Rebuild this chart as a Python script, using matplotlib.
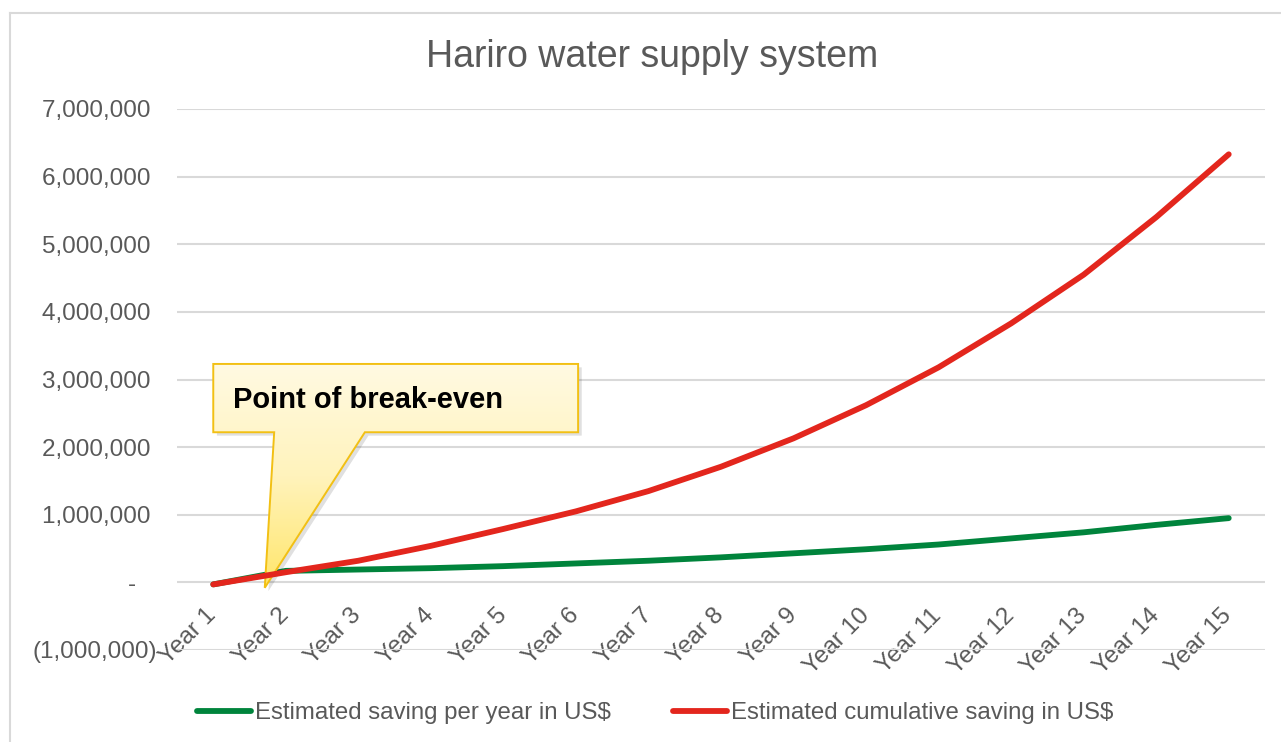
import numpy as np
import matplotlib
matplotlib.use("Agg")
import matplotlib.pyplot as plt
from matplotlib.patches import Polygon
from matplotlib.lines import Line2D
from matplotlib.colors import LinearSegmentedColormap
from matplotlib.transforms import ScaledTranslation

plt.rcParams['font.family'] = ['Liberation Sans', 'DejaVu Sans']

# ---- data ----
years = [f"Year {i}" for i in range(1, 16)]
saving_per_year = [-30000, 170000, 190000, 210000, 240000, 280000, 320000, 370000,
                   430000, 490000, 560000, 650000, 740000, 850000, 950000]
cumulative_saving = [-30000, 150000, 320000, 540000, 790000, 1050000, 1350000, 1710000,
                     2130000, 2620000, 3180000, 3830000, 4550000, 5400000, 6330000]
y_ticks = [-1000000, 0, 1000000, 2000000, 3000000, 4000000, 5000000, 6000000, 7000000]

title = "Hariro water supply system"
series_names = ["Estimated saving per year in US$", "Estimated cumulative saving in US$"]
callout_text = "Point of break-even"

GREEN = "#00843C"
RED = "#E3261D"
GRID = "#D9D9D9"
TEXT = "#595959"

W, H = 1281, 742
fig = plt.figure(figsize=(W / 100, H / 100), dpi=100)
fig.patch.set_facecolor("white")

# chart-area frame (top and left edges visible)
fig.add_artist(Line2D([10 / W, 1.0], [1 - 13 / H, 1 - 13 / H], color=GRID, lw=1.5,
                      transform=fig.transFigure))
fig.add_artist(Line2D([10 / W, 10 / W], [0.0, 1 - 13 / H], color=GRID, lw=1.5,
                      transform=fig.transFigure))

ax = fig.add_axes([177 / W, 1 - 650 / H, (1265 - 177) / W, (650 - 109) / H])
x = np.arange(len(years))

ax.plot(x, saving_per_year, color=GREEN, lw=4.2, solid_capstyle="round",
        solid_joinstyle="round", zorder=3, label=series_names[0])
ax.plot(x, cumulative_saving, color=RED, lw=4.2, solid_capstyle="round",
        solid_joinstyle="round", zorder=5, label=series_names[1])

ax.set_xlim(-0.5, len(years) - 0.5)
ax.set_ylim(y_ticks[0], y_ticks[-1])

for s in ax.spines.values():
    s.set_visible(False)
ax.set_yticks(y_ticks)
ax.yaxis.grid(True, color=GRID, lw=1.5)
ax.set_axisbelow(True)


def fmt(v):
    if v < 0:
        return f"({abs(v):,.0f})"
    if v == 0:
        return "-   "
    return f"{v:,.0f} "


ax.set_yticklabels([fmt(v) for v in y_ticks])
ax.tick_params(axis="y", length=0, pad=14.5, labelsize=17.5, labelcolor=TEXT)

# category axis crosses at zero
ax.spines["bottom"].set_position(("data", 0))
ax.set_xticks(x)
ax.set_xticklabels(years, rotation=45, ha="right", va="top", rotation_mode="anchor")
ax.tick_params(axis="x", length=0, pad=13, labelsize=17.5, labelcolor=TEXT)
shift = ScaledTranslation(-8 / 100, -4 / 100, fig.dpi_scale_trans)
for lab in ax.get_xticklabels():
    lab.set_transform(lab.get_transform() + shift)

# callout with vertical gradient fill
x0, x1 = 0.0, 5.03
ytop, ybot = 3.23e6, 2.22e6
pb_l, pb_r = 0.84, 2.09
tip = (0.71, -0.08e6)
verts = [(x0, ytop), (x1, ytop), (x1, ybot), (pb_r, ybot), tip, (pb_l, ybot), (x0, ybot)]

shadow = Polygon([(vx + 0.05, vy - 0.05e6) for vx, vy in verts], closed=True,
                 facecolor="#000000", alpha=0.12, edgecolor="none", zorder=3.9)
ax.add_patch(shadow)

outline = Polygon(verts, closed=True, facecolor="none", edgecolor="#F2C014",
                  lw=1.4, zorder=4.2)
ax.add_patch(outline)
clip = Polygon(verts, closed=True, transform=ax.transData)
cmap = LinearSegmentedColormap.from_list("callout", ["#FFE66A", "#FFF3BC", "#FFFAE2"])
grad = np.linspace(0, 1, 256).reshape(-1, 1)
im = ax.imshow(grad, cmap=cmap, origin="lower", aspect="auto",
               extent=[x0, x1, tip[1], ytop], zorder=4.1, interpolation="bilinear")
im.set_clip_path(clip)

ax.text(0.27, 2.70e6, callout_text, fontsize=21, fontweight="bold", color="black",
        ha="left", va="center", zorder=6)

ax.set_xlim(-0.5, len(years) - 0.5)
ax.set_ylim(y_ticks[0], y_ticks[-1])

fig.text(652 / W, 1 - 57 / H, title, fontsize=27, color=TEXT, ha="center", va="center")

leg = fig.legend(loc="center", bbox_to_anchor=(655 / W, 1 - 713 / H), ncol=2,
                 frameon=False, fontsize=17.3, handlelength=2.25, handletextpad=0.15,
                 columnspacing=2.6)
for t in leg.get_texts():
    t.set_color(TEXT)

fig.savefig("out.png", dpi=100, facecolor="white")
